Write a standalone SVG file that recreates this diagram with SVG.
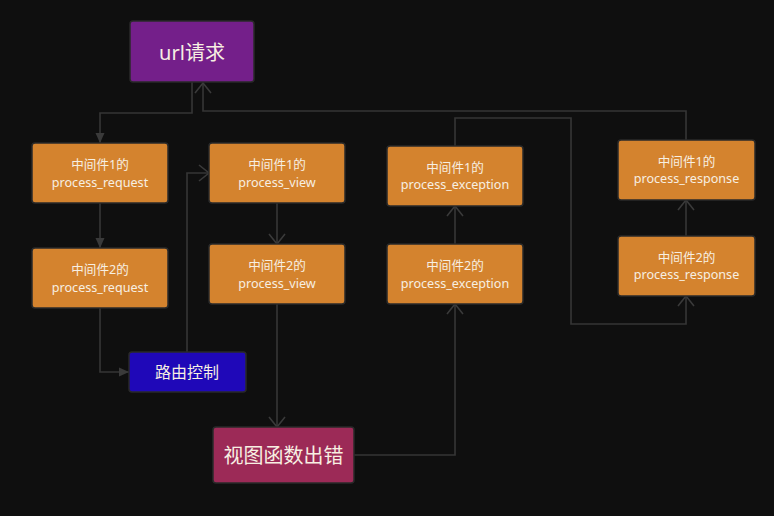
<svg xmlns="http://www.w3.org/2000/svg" width="774" height="516" viewBox="0 0 774 516">
<defs>
<marker id="fill" viewBox="0 0 10 10" refX="10" refY="5" markerWidth="10" markerHeight="10" markerUnits="userSpaceOnUse" orient="auto">
<path d="M0,0.5 L10,5 L0,9.5 Z" fill="#3a3a3a"/>
</marker>
<marker id="open" viewBox="0 0 12 18" refX="11" refY="9" markerWidth="12" markerHeight="18" markerUnits="userSpaceOnUse" orient="auto">
<path d="M1,1 L11,9 L1,17" fill="none" stroke="#3a3a3a" stroke-width="1.6"/>
</marker>
</defs>
<style>
.bg{fill:#0f0f0f}
.box{stroke:#2a2a2a;stroke-width:1.5}
.mw{fill:#d4832e}
.t{font-family:"Noto Sans","Noto Sans CJK SC",sans-serif;fill:#f7efe2;text-anchor:middle;dominant-baseline:central}
.s{font-size:12.6px}
.c{fill:none;stroke:#363636;stroke-width:1.6}
</style>
<rect class="bg" x="0" y="0" width="774" height="516"/>
<g id="connectors">
<path class="c" d="M192,82 V113 H100 V143" marker-end="url(#fill)"/>
<path class="c" d="M686,140 V111 H203 V83" marker-end="url(#open)"/>
<path class="c" d="M100,203 V248" marker-end="url(#fill)"/>
<path class="c" d="M100,308 V372 H129" marker-end="url(#fill)"/>
<path class="c" d="M187,352 V173 H209" marker-end="url(#open)"/>
<path class="c" d="M277,203 V244" marker-end="url(#open)"/>
<path class="c" d="M277,304 V427" marker-end="url(#open)"/>
<path class="c" d="M354,455 H455 V304" marker-end="url(#open)"/>
<path class="c" d="M455,244 V206" marker-end="url(#open)"/>
<path class="c" d="M455,146 V118 H571 V324 H686 V296" marker-end="url(#open)"/>
<path class="c" d="M686,236 V200" marker-end="url(#open)"/>
</g>
<g id="url">
<rect class="box" x="130" y="21" width="124" height="61" rx="3" fill="#741f8a"/>
<text class="t" x="192" y="52" font-size="20">url请求</text>
</g>
<g id="req1">
<rect class="box mw" x="32" y="143" width="136" height="60" rx="3"/>
<text class="t s" x="100" y="164.5">中间件1的</text>
<text class="t s" x="100" y="182">process_request</text>
</g>
<g id="req2">
<rect class="box mw" x="32" y="248" width="136" height="60" rx="3"/>
<text class="t s" x="100" y="269.5">中间件2的</text>
<text class="t s" x="100" y="287">process_request</text>
</g>
<g id="view1">
<rect class="box mw" x="209" y="143" width="136" height="60" rx="3"/>
<text class="t s" x="277" y="164.5">中间件1的</text>
<text class="t s" x="277" y="182">process_view</text>
</g>
<g id="view2">
<rect class="box mw" x="209" y="244" width="136" height="60" rx="3"/>
<text class="t s" x="277" y="265.5">中间件2的</text>
<text class="t s" x="277" y="283">process_view</text>
</g>
<g id="router">
<rect class="box" x="129" y="352" width="117" height="40" rx="3" fill="#1f08b8"/>
<text class="t" x="187" y="372" font-size="16">路由控制</text>
</g>
<g id="viewerr">
<rect class="box" x="213" y="427" width="141" height="56" rx="3" fill="#9c2a57"/>
<text class="t" x="283.5" y="455.5" font-size="20">视图函数出错</text>
</g>
<g id="exc1">
<rect class="box mw" x="387" y="146" width="136" height="60" rx="3"/>
<text class="t s" x="455" y="167">中间件1的</text>
<text class="t s" x="455" y="184.5">process_exception</text>
</g>
<g id="exc2">
<rect class="box mw" x="387" y="244" width="136" height="60" rx="3"/>
<text class="t s" x="455" y="265.5">中间件2的</text>
<text class="t s" x="455" y="283">process_exception</text>
</g>
<g id="resp1">
<rect class="box mw" x="618" y="140" width="137" height="60" rx="3"/>
<text class="t s" x="686.5" y="161">中间件1的</text>
<text class="t s" x="686.5" y="178.5">process_response</text>
</g>
<g id="resp2">
<rect class="box mw" x="618" y="236" width="137" height="60" rx="3"/>
<text class="t s" x="686.5" y="257">中间件2的</text>
<text class="t s" x="686.5" y="274.5">process_response</text>
</g>
</svg>
